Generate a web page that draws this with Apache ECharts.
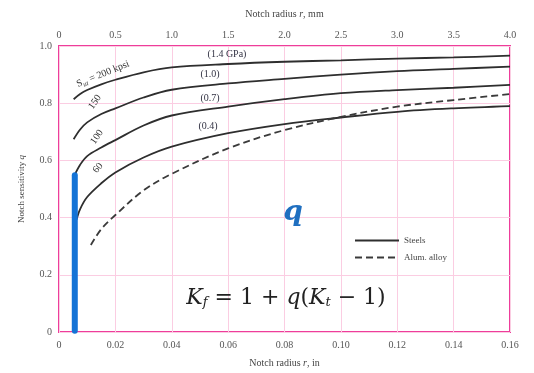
<!DOCTYPE html>
<html>
<head>
<meta charset="utf-8">
<script src="https://cdn.jsdelivr.net/npm/echarts@6/dist/echarts.min.js"></script>
<style>html,body{margin:0;padding:0;background:#fff;}#c{width:534px;height:373px;}</style>
</head>
<body>
<div id="c"></div>
<script>
// ---- data ----
const xTicksIn = ['0','0.02','0.04','0.06','0.08','0.10','0.12','0.14','0.16'];
const xTicksMm = ['0','0.5','1.0','1.5','2.0','2.5','3.0','3.5','4.0'];
const yTicks = ['0','0.2','0.4','0.6','0.8','1.0'];

const r200 = [0.0052,0.0075,0.01,0.015,0.02,0.03,0.04,0.06,0.08,0.10,0.12,0.14,0.16];
const q200 = [0.814,0.832,0.846,0.866,0.882,0.908,0.925,0.937,0.945,0.950,0.956,0.960,0.966];
const r150 = [0.0052,0.0075,0.01,0.015,0.02,0.03,0.04,0.06,0.08,0.10,0.12,0.14,0.16];
const q150 = [0.674,0.708,0.733,0.762,0.782,0.820,0.847,0.869,0.885,0.900,0.912,0.920,0.928];
const r100 = [0.0055,0.0075,0.01,0.015,0.02,0.03,0.04,0.06,0.08,0.10,0.12,0.14,0.16];
const q100 = [0.548,0.585,0.615,0.645,0.671,0.722,0.757,0.788,0.814,0.835,0.846,0.854,0.864];
const r60  = [0.0062,0.0075,0.01,0.015,0.02,0.03,0.04,0.06,0.08,0.10,0.12,0.14,0.16];
const q60  = [0.392,0.430,0.472,0.520,0.558,0.610,0.648,0.695,0.727,0.750,0.770,0.782,0.790];
const rAl  = [0.0113,0.015,0.02,0.03,0.04,0.06,0.08,0.10,0.12,0.14,0.16];
const qAl  = [0.304,0.360,0.409,0.495,0.553,0.642,0.706,0.752,0.788,0.811,0.832];
const rBlue = [0.0056,0.0056];
const qBlue = [0.004,0.548];

const zip = (a,b)=>a.map((v,i)=>[v,b[i]]);

const serif = 'Liberation Serif';
const chart = echarts.init(document.getElementById('c'), null, {renderer:'canvas'});
const curveColor = '#2e2e2e';
const steelSeries = (data)=>({
  type:'line', name:'Steels', data:data, smooth:0.35, symbol:'none', z:3,
  lineStyle:{color:curveColor,width:1.8}, itemStyle:{color:curveColor}
});

chart.setOption({
  animation:false,
  backgroundColor:'#ffffff',
  grid:{left:59,right:24,top:46,bottom:41,show:true,borderColor:'#ee3d9b',borderWidth:2,backgroundColor:'transparent'},
  xAxis:[{
    type:'value',min:0,max:0.16,interval:0.02,position:'bottom',
    axisLine:{show:false},axisTick:{show:false},
    splitLine:{show:true,lineStyle:{color:'#fbcde2',width:1}},
    axisLabel:{margin:8,fontFamily:serif,fontSize:10,color:'#555',formatter:(v)=>xTicksIn[Math.round(v/0.02)]},
    name:'{n|Notch radius }{i|r}{n|, in}',nameLocation:'middle',nameGap:26,
    nameTextStyle:{rich:{n:{fontFamily:serif,fontSize:10,color:'#444'},i:{fontFamily:serif,fontStyle:'italic',fontSize:10,color:'#444'}}}
  },{
    type:'value',min:0,max:4,interval:0.5,position:'top',
    axisLine:{show:false},axisTick:{show:false},splitLine:{show:false},
    axisLabel:{margin:6,fontFamily:serif,fontSize:10,color:'#555',formatter:(v)=>xTicksMm[Math.round(v/0.5)]},
    name:'{n|Notch radius }{i|r}{n|, mm}',nameLocation:'middle',nameGap:27,
    nameTextStyle:{rich:{n:{fontFamily:serif,fontSize:10,color:'#444'},i:{fontFamily:serif,fontStyle:'italic',fontSize:10,color:'#444'}}}
  }],
  yAxis:{
    type:'value',min:0,max:1,interval:0.2,
    axisLine:{show:false},axisTick:{show:false},
    splitLine:{show:true,lineStyle:{color:'#fbcde2',width:1}},
    axisLabel:{margin:7,fontFamily:serif,fontSize:10,color:'#555',formatter:(v)=>yTicks[Math.round(v/0.2)]},
    name:'{n|Notch sensitivity }{i|q}',nameLocation:'middle',nameGap:33,nameRotate:90,
    nameTextStyle:{rich:{n:{fontFamily:serif,fontSize:9,color:'#444'},i:{fontFamily:serif,fontStyle:'italic',fontSize:9,color:'#444'}}}
  },
  legend:{
    orient:'vertical',left:349,top:231,itemWidth:44,itemHeight:10,itemGap:8,
    itemStyle:{opacity:0},
    textStyle:{fontFamily:serif,fontSize:9,color:'#444'},
    data:['Steels','Alum. alloy']
  },
  series:[
    steelSeries(zip(r200,q200)),
    steelSeries(zip(r150,q150)),
    steelSeries(zip(r100,q100)),
    steelSeries(zip(r60,q60)),
    {type:'line',name:'Alum. alloy',data:zip(rAl,qAl),smooth:0.35,symbol:'none',z:3,
     lineStyle:{color:'#3a3a3a',width:1.8,type:[7,4]},itemStyle:{color:'#3a3a3a'}},
    {type:'line',name:'blue',data:zip(rBlue,qBlue),symbol:'none',z:5,
     lineStyle:{color:'#1473d6',width:6,cap:'round'}}
  ],
  graphic:[
    {type:'text',x:103,y:74,rotation:22*Math.PI/180,z:10,
     style:{text:'{s|S}{sub|ut}{s| = 200 kpsi}',align:'center',verticalAlign:'middle',
       rich:{s:{fontFamily:serif,fontSize:10,fill:'#333'},sub:{fontFamily:serif,fontStyle:'italic',fontSize:7,fill:'#333',padding:[6,0,0,0]}}}},
    {type:'text',x:95,y:102,rotation:55*Math.PI/180,z:10,style:{text:'150',align:'center',verticalAlign:'middle',fontFamily:serif,fontSize:10,fill:'#333'}},
    {type:'text',x:97,y:137,rotation:55*Math.PI/180,z:10,style:{text:'100',align:'center',verticalAlign:'middle',fontFamily:serif,fontSize:10,fill:'#333'}},
    {type:'text',x:98,y:168,rotation:50*Math.PI/180,z:10,style:{text:'60',align:'center',verticalAlign:'middle',fontFamily:serif,fontSize:10,fill:'#333'}},
    {type:'text',x:227,y:54,z:10,style:{text:'(1.4 GPa)',align:'center',verticalAlign:'middle',fontFamily:serif,fontSize:10,fill:'#334'}},
    {type:'text',x:210,y:74,z:10,style:{text:'(1.0)',align:'center',verticalAlign:'middle',fontFamily:serif,fontSize:10,fill:'#334'}},
    {type:'text',x:210,y:98,z:10,style:{text:'(0.7)',align:'center',verticalAlign:'middle',fontFamily:serif,fontSize:10,fill:'#334'}},
    {type:'text',x:208,y:126,z:10,style:{text:'(0.4)',align:'center',verticalAlign:'middle',fontFamily:serif,fontSize:10,fill:'#334'}},
    {type:'text',x:293,y:213,z:10,style:{text:'q',align:'center',verticalAlign:'middle',fontFamily:'DejaVu Serif',fontStyle:'italic',fontWeight:'bold',fontSize:28,fill:'#1f6fc0'}},
    {type:'text',x:286,y:298,z:10,
     style:{text:'{i|K}{sub|f}{n| = 1 + }{i|q}{n|(}{i|K}{sub|t}{n| − 1)}',align:'center',verticalAlign:'middle',
       rich:{i:{fontFamily:'DejaVu Serif',fontStyle:'italic',fontSize:22,fill:'#222'},
             n:{fontFamily:'DejaVu Serif',fontSize:22,fill:'#222'},
             sub:{fontFamily:'DejaVu Serif',fontStyle:'italic',fontSize:13,fill:'#222',padding:[10,0,0,0]}}}}
  ]
});
</script>
</body>
</html>
